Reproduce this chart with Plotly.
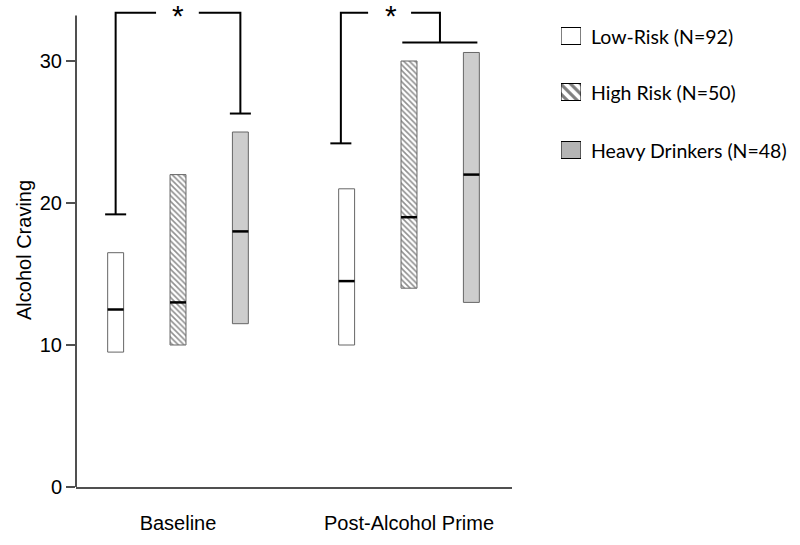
import plotly.graph_objects as go

# ---------------- data ----------------
groups = ["Baseline", "Post-Alcohol Prime"]
series_names = ["Low-Risk (N=92)", "High Risk (N=50)", "Heavy Drinkers (N=48)"]

low_risk_lo = [9.5, 10.0]
low_risk_med = [12.5, 14.5]
low_risk_hi = [16.5, 21.0]

high_risk_lo = [10.0, 14.0]
high_risk_med = [13.0, 19.0]
high_risk_hi = [22.0, 30.0]

heavy_lo = [11.5, 13.0]
heavy_med = [18.0, 22.0]
heavy_hi = [25.0, 30.6]

y_ticks = [0, 10, 20, 30]

# significance brackets (per group): left end value, right end value, top value
bracket_left_end = [19.2, 24.2]
bracket_right_end = [26.3, 31.3]
bracket_top = [33.4, 33.4]
# post-prime bracket joins High Risk + Heavy with a horizontal bar
post_join_y = 31.3

# ---------------- layout constants ----------------
W, H = 800, 545
ML, MR, MT, MB = 76, 10, 5, 58
PW = W - ML - MR           # paper width
PH = H - MT - MB           # paper height
AX_RIGHT = 512             # pixel where x axis ends
XDOM = (AX_RIGHT - ML) / PW

offsets = [-0.27, 0.0, 0.27]
bar_w = 0.069
x_range = [-0.4416, 1.4459]
y_range = [0, (487 - MT) / 14.2]

def px_x(p):
    return (p - ML) / PW

def px_y(p):
    return (487 - p) / PH

FONT = "Liberation Sans, Arial, sans-serif"
LEG_FONT = "Lato, Carlito, sans-serif"
OUTLINE = "#666666"

series = [
    dict(lo=low_risk_lo, med=low_risk_med, hi=low_risk_hi, fill="white", pattern=None),
    dict(lo=high_risk_lo, med=high_risk_med, hi=high_risk_hi, fill="white",
         pattern=dict(shape="\\", size=4, solidity=0.4, fgcolor="#222222", bgcolor="white")),
    dict(lo=heavy_lo, med=heavy_med, hi=heavy_hi, fill="#cdcdcd", pattern=None),
]

fig = go.Figure()

for i, s in enumerate(series):
    xs = [g + offsets[i] for g in range(len(groups))]
    marker = dict(color=s["fill"], line=dict(color=OUTLINE, width=1))
    if s["pattern"]:
        marker["pattern"] = s["pattern"]
    fig.add_trace(go.Bar(
        x=xs, y=[h - l for h, l in zip(s["hi"], s["lo"])], base=s["lo"],
        width=[bar_w] * len(xs), marker=marker, name=series_names[i],
        showlegend=False, hoverinfo="skip"))
    # medians
    mx, my = [], []
    for x, m in zip(xs, s["med"]):
        mx += [x - bar_w / 2, x + bar_w / 2, None]
        my += [m, m, None]
    fig.add_trace(go.Scatter(x=mx, y=my, mode="lines",
                             line=dict(color="black", width=2.5),
                             showlegend=False, hoverinfo="skip"))

# brackets
cap = 0.091
bx, by = [], []
# Baseline: Low-Risk vs Heavy
g = 0
xl = g + offsets[0]
xr = g + offsets[2]
bx += [xl - cap / 2, xl + cap / 2, None, xl, xl, g - 0.095, None,
       g + 0.09, xr, xr, None, xr - cap / 2, xr + cap / 2, None]
by += [bracket_left_end[g], bracket_left_end[g], None, bracket_left_end[g], bracket_top[g], bracket_top[g], None,
       bracket_top[g], bracket_top[g], bracket_right_end[g], None, bracket_right_end[g], bracket_right_end[g], None]
# Post: Low-Risk vs (High Risk + Heavy)
g = 1
xl = g - 0.295
xr = g + 0.134
bx += [xl - cap / 2, xl + cap / 2, None, xl, xl, g - 0.177, None,
       g + 0.009, xr, xr, None, g - 0.029, g + 0.296, None]
by += [bracket_left_end[g], bracket_left_end[g], None, bracket_left_end[g], bracket_top[g], bracket_top[g], None,
       bracket_top[g], bracket_top[g], post_join_y, None, post_join_y, post_join_y, None]
fig.add_trace(go.Scatter(x=bx, y=by, mode="lines", line=dict(color="black", width=2),
                         showlegend=False, hoverinfo="skip"))

# stars
for g, sx in zip(range(len(groups)), [0.0, -0.08]):
    fig.add_annotation(x=g + sx, y=bracket_top[g], text="*", showarrow=False,
                       font=dict(family=FONT, size=30, color="black"),
                       xref="x", yref="y", xanchor="center", yanchor="middle", yshift=-3)

# y axis line (drawn as shape so plot area can extend above it)
fig.add_shape(type="line", xref="x domain", yref="y", x0=0, x1=0, y0=0, y1=33.2,
              line=dict(color="#505050", width=2))

# y axis title
fig.add_annotation(text="Alcohol Craving", textangle=-90, showarrow=False,
                   xref="paper", yref="paper", x=px_x(24), y=px_y(250),
                   xanchor="center", yanchor="middle",
                   font=dict(family=FONT, size=20, color="black"))

# custom legend
leg_centers = [36, 92, 150]
leg_styles = [
    dict(color="white"),
    dict(color="white", pattern=dict(shape="\\", size=7, solidity=0.45, fgcolor="black", bgcolor="white")),
    dict(color="#b4b4b4"),
]
for name, cy, st in zip(series_names, leg_centers, leg_styles):
    mk = dict(st)
    mk["line"] = dict(color="black", width=1)
    fig.add_trace(go.Bar(x=[0], y=[17], base=[cy - 8.5], width=[1], marker=mk,
                         xaxis="x2", yaxis="y2", showlegend=False, hoverinfo="skip"))
    fig.add_annotation(text=name, showarrow=False, xref="paper", yref="paper",
                       x=px_x(589), y=px_y(cy), xanchor="left", yanchor="middle",
                       font=dict(family=LEG_FONT, size=19.5, color="black"))

fig.update_layout(
    width=W, height=H,
    margin=dict(l=ML, r=MR, t=MT, b=MB),
    plot_bgcolor="white", paper_bgcolor="white",
    barmode="overlay", showlegend=False,
    xaxis=dict(domain=[0, XDOM], range=x_range, tickvals=list(range(len(groups))),
               ticktext=groups, ticks="", showline=True, linecolor="#505050", linewidth=2,
               showgrid=False, zeroline=False, ticklabelstandoff=17,
               tickfont=dict(family=FONT, size=20, color="black")),
    yaxis=dict(range=y_range, tickvals=y_ticks, ticks="outside", ticklen=9, tickwidth=2,
               tickcolor="#505050", showline=False, showgrid=False, zeroline=False,
               tickfont=dict(family=FONT, size=20, color="black")),
    xaxis2=dict(domain=[px_x(561), px_x(581)], range=[-0.5, 0.5], visible=False, anchor="y2"),
    yaxis2=dict(domain=[0, 1], range=[487, MT], visible=False, anchor="x2"),
)

fig.write_html("out.html", config={"displayModeBar": False},
               post_script="document.body.style.margin='0';document.body.style.padding='0';")
